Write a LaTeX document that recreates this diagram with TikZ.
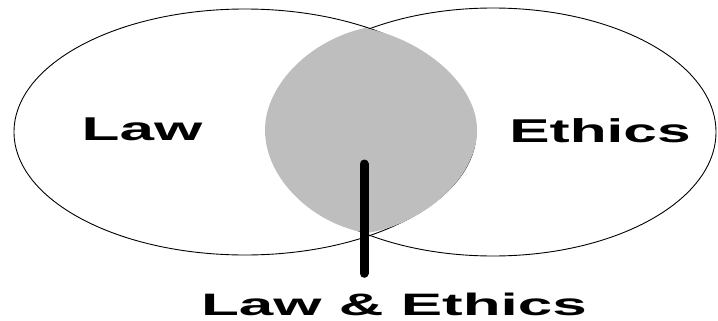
\documentclass[tikz,border=0pt]{standalone}
\usepackage{fontspec}
\setmainfont{Liberation Sans}
\usetikzlibrary{positioning,calc}
\definecolor{Overlap}{HTML}{BEBEBE}

\begin{document}
\begin{tikzpicture}[x=1pt,y=-1pt,
  ring/.style={draw=black,line width=0.9pt},
  setlabel/.style={font=\fontsize{33}{36}\selectfont\bfseries,inner sep=0pt,anchor=base},
  stem/.style={line width=9pt,line cap=round}
]
  \useasboundingbox (0,0) rectangle (718,321);
  % the two sets
  \draw[ring] (245,132) ellipse [x radius=231, y radius=123];
  \draw[ring] (493,132) ellipse [x radius=223, y radius=124];
  % shared part
  \fill[Overlap] (365,28) .. controls (425,40) and (477,85) .. (477,130)
    .. controls (477,180) and (420,225) .. (367,233)
    .. controls (315,225) and (265,180) .. (265,130)
    .. controls (265,85) and (310,40) .. (365,28) -- cycle;
  \node[setlabel] (law) at (142,140) {\scalebox{1.88}[1]{Law}};
  \node[setlabel] (ethics) at (600,142) {\scalebox{1.83}[1]{Ethics}};
  \node[setlabel,font=\fontsize{31}{34}\selectfont\bfseries] (both) at (394,315) {\scalebox{2.0}[1]{Law \& Ethics}};
  \coordinate (tip) at (364,164);
  \draw[stem,shorten >=19pt] (tip) -- (tip |- both.north);
\end{tikzpicture}
\end{document}
